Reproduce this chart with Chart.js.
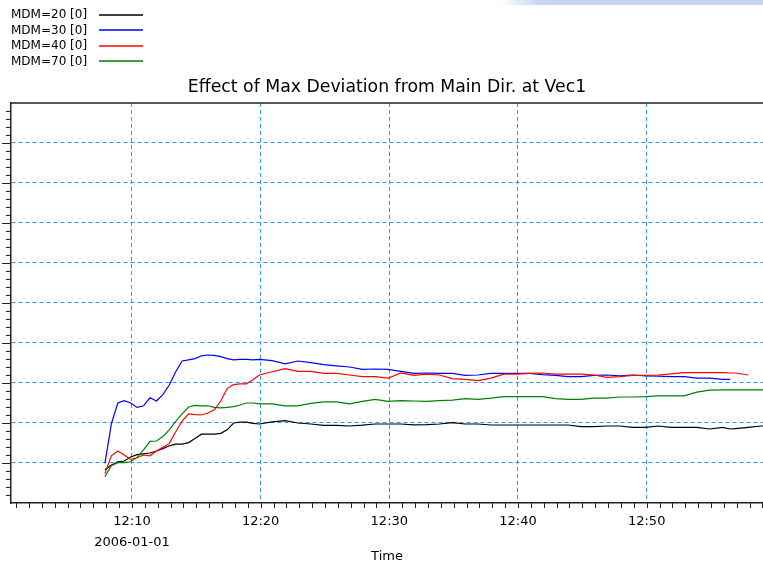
<!DOCTYPE html>
<html><head><meta charset="utf-8">
<script src="https://cdn.jsdelivr.net/npm/chart.js@4"></script>
<style>
html,body{margin:0;padding:0;background:#fff;}
#wrap{position:relative;width:763px;height:566px;overflow:hidden;background:#fff;}
#c{position:absolute;left:0;top:0;width:763px;height:566px;}
.lg{position:absolute;left:11px;font-family:"DejaVu Sans";font-size:12px;color:#000;line-height:14px;white-space:nowrap;}
.lgline{position:absolute;left:99px;width:44px;height:2px;opacity:0.75;}
#band{position:absolute;top:0;left:500px;width:263px;height:5px;background:linear-gradient(to right, rgba(197,213,238,0) 0px, #c6d6ef 40px, #c5d5ee 100%);}
</style></head>
<body><div id="wrap"><canvas id="c" width="763" height="566"></canvas><div id="band"></div></div>
<script>
// time in minutes after 12:00 on 2006-01-01
const times = [7.9,8.4,8.9,9.4,9.9,10.4,10.9,11.4,11.9,12.4,12.9,13.4,13.9,14.4,14.9,15.4,15.9,16.4,16.9,17.4,17.9,18.4,18.9,19.4,
  19.9,20.9,21.9,22.9,23.9,24.9,25.9,26.9,27.9,28.9,29.9,30.9,31.9,32.9,33.9,34.9,35.9,36.9,37.9,38.9,39.9,40.9,41.9,42.9,43.9,44.9,
  45.9,46.9,47.9,48.9,49.9,50.9,51.9,52.9,53.9,54.9,55.9,56.5,56.9,57.9,58.9,59.04];
const mdm20 = [0.83,0.95,1.03,1.05,1.15,1.21,1.23,1.25,1.3,1.36,1.43,1.47,1.47,1.51,1.61,1.72,1.72,1.72,1.74,1.83,2.0,2.02,2.02,1.99,
  1.975,2.03,2.06,2.0,1.975,1.94,1.94,1.925,1.945,1.975,1.975,1.975,1.955,1.96,1.975,2.01,1.975,1.975,1.95,1.95,1.95,1.95,1.95,1.95,1.95,1.91,
  1.91,1.925,1.925,1.89,1.89,1.925,1.89,1.89,1.89,1.85,1.89,1.85,1.86,1.89,1.925,1.925];
const mdm30 = [0.99,1.98,2.5,2.56,2.5,2.39,2.43,2.63,2.55,2.71,2.95,3.28,3.55,3.58,3.61,3.68,3.7,3.69,3.66,3.61,3.58,3.59,3.59,3.58,
  3.59,3.56,3.48,3.55,3.51,3.46,3.43,3.4,3.34,3.35,3.34,3.29,3.24,3.25,3.24,3.24,3.19,3.2,3.24,3.24,3.24,3.24,3.21,3.19,3.16,3.16,
  3.19,3.2,3.18,3.2,3.18,3.17,3.16,3.16,3.12,3.12,3.09,3.09,null,null,null,null];
const mdm40 = [0.74,1.18,1.3,1.2,1.09,1.13,1.2,1.18,1.3,1.39,1.49,1.78,2.05,2.23,2.21,2.2,2.25,2.33,2.55,2.86,2.96,2.98,2.98,3.08,
  3.2,3.28,3.36,3.29,3.29,3.24,3.24,3.2,3.16,3.16,3.12,3.25,3.19,3.22,3.2,3.11,3.09,3.06,3.12,3.22,3.22,3.24,3.25,3.22,3.22,3.22,
  3.2,3.14,3.16,3.19,3.19,3.2,3.23,3.26,3.26,3.26,3.26,3.25,3.25,3.2,null,null];
const mdm70 = [0.66,0.93,1.01,1.01,1.03,1.14,1.33,1.54,1.55,1.66,1.83,2.04,2.23,2.4,2.44,2.43,2.43,2.39,2.38,2.39,2.41,2.45,2.5,2.5,
  2.48,2.48,2.43,2.43,2.49,2.53,2.53,2.48,2.54,2.59,2.54,2.56,2.55,2.54,2.56,2.57,2.61,2.59,2.62,2.66,2.66,2.66,2.66,2.61,2.59,2.59,
  2.62,2.62,2.65,2.65,2.66,2.68,2.68,2.68,2.77,2.82,2.83,2.83,2.83,2.83,2.83,2.83];

const seriesNames = ['MDM=20 [0]','MDM=30 [0]','MDM=40 [0]','MDM=70 [0]'];
const seriesColors = ['#000000','#0000ff','#ff0000','#008000'];
const seriesValues = [mdm20, mdm30, mdm40, mdm70];

const tickValues = [10,20,30,40,50];
const tickLabels = [['12:10','2006-01-01'],'12:20','12:30','12:40','12:50'];
const yGridValues = [1,2,3,4,5,6,7,8,9];

const chartTitle = 'Effect of Max Deviation from Main Dir. at Vec1';
const xTitle = 'Time';
const gridColor = '#2f95ff';

// HTML legend
const wrap = document.getElementById('wrap');
const legendY = [7, 22.5, 38, 53.5];
seriesNames.forEach((n,i)=>{
  const t = document.createElement('div');
  t.className='lg'; t.style.top = legendY[i]+'px'; t.textContent = n;
  wrap.appendChild(t);
  const l = document.createElement('div');
  l.className='lgline'; l.style.top = Math.round(legendY[i]+6.5)+'px'; l.style.background = seriesColors[i];
  wrap.appendChild(l);
});

const axisDecor = {
  id:'axisDecor',
  afterDraw(chart){
    const {ctx, chartArea:a, scales:{x,y}} = chart;
    ctx.save();
    ctx.strokeStyle='#222'; ctx.lineWidth=1;
    ctx.beginPath();
    for (let m=1;m<=59;m++){
      const px=Math.round(x.getPixelForValue(m))+0.5;
      if(px<a.left||px>a.right) continue;
      ctx.moveTo(px,a.bottom); ctx.lineTo(px,a.bottom+5);
    }
    for (let k=1;k<50;k++){
      const py=Math.round(y.getPixelForValue(k/5))+0.5;
      const len=(k%5===0)?9:5;
      ctx.moveTo(a.left-len,py); ctx.lineTo(a.left,py);
    }
    ctx.stroke();
    ctx.lineWidth=1.5;
    ctx.beginPath(); ctx.moveTo(a.left,a.top); ctx.lineTo(a.right,a.top); ctx.stroke();
    ctx.restore();
  }
};

new Chart(document.getElementById('c'), {
  type:'line',
  data:{
    datasets: seriesNames.map((n,i)=>({
      label:n,
      data: times.map((t,k)=>({x:t, y:seriesValues[i][k]})),
      borderColor: seriesColors[i],
      borderWidth:1.2,
      pointRadius:0,
      tension:0,
      fill:false,
      order: seriesNames.length - i
    }))
  },
  options:{
    responsive:false, animation:false, events:[],
    layout:{padding:0},
    plugins:{
      legend:{display:false},
      tooltip:{enabled:false},
      title:{display:true, text:chartTitle, fullSize:false, color:'#000',
        font:{family:'DejaVu Sans', size:17.3, weight:'normal', lineHeight:1.2},
        padding:{top:77.6, bottom:4.6}}
    },
    scales:{
      x:{
        type:'linear', min:0.6, max:59.04,
        afterBuildTicks:s=>{ s.ticks = tickValues.map(v=>({value:v})); },
        afterFit:s=>{ s.height = 63; },
        ticks:{autoSkip:false, maxRotation:0, minRotation:0, padding:8.6, color:'#000',
          font:{family:'DejaVu Sans', size:13, lineHeight:1.6},
          callback:(v)=>{ const i = tickValues.indexOf(v); return i>=0 ? tickLabels[i] : ''; }},
        grid:{color:gridColor, lineWidth:1, drawTicks:false},
        border:{display:true, color:'#222', width:1.5, dash:[4,3]},
        title:{display:true, text:xTitle, color:'#000', font:{family:'DejaVu Sans', size:13}, padding:{top:0,bottom:2}}
      },
      y:{
        type:'linear', min:0, max:10,
        afterBuildTicks:s=>{ s.ticks = yGridValues.map(v=>({value:v})); },
        afterFit:s=>{ s.width = 11; },
        ticks:{display:false},
        grid:{color:gridColor, lineWidth:1, drawTicks:false},
        border:{display:true, color:'#222', width:1.5, dash:[4,3]}
      }
    }
  },
  plugins:[axisDecor]
});
</script>
</body></html>
